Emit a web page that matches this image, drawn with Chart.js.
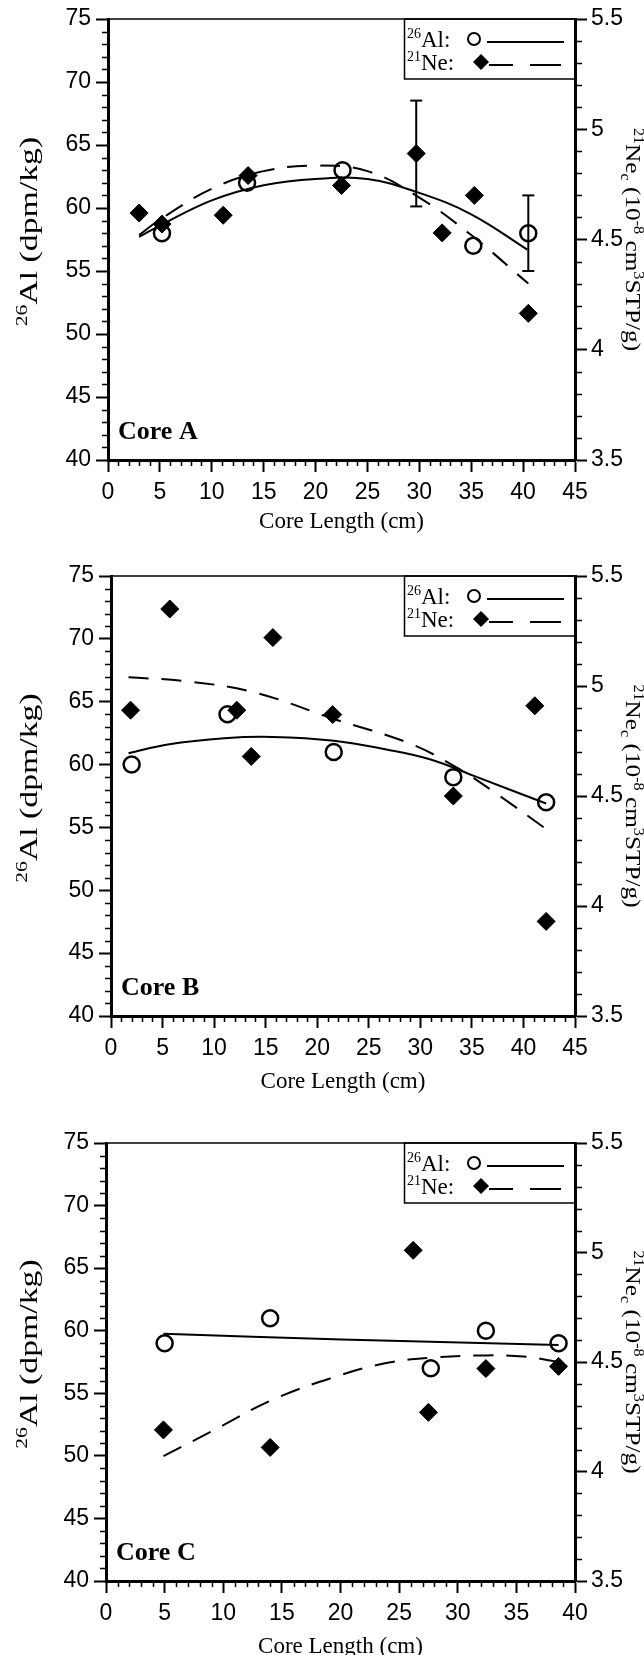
<!DOCTYPE html>
<html>
<head>
<meta charset="utf-8">
<script src="https://cdn.jsdelivr.net/npm/chart.js@4.4.1/dist/chart.umd.min.js"></script>
<style>
  body { margin: 0; background: #fff; width: 644px; height: 1655px; position: relative; overflow: hidden; }
  canvas { position: absolute; left: 0; }
</style>
</head>
<body>
<canvas id="chartA" width="644" height="552" style="top:0px"></canvas>
<canvas id="chartB" width="644" height="558" style="top:552px"></canvas>
<canvas id="chartC" width="644" height="545" style="top:1110px"></canvas>
<script>
// ---------------- data ----------------
const depthTicksAB = [0, 5, 10, 15, 20, 25, 30, 35, 40, 45];
const depthTicksC = [0, 5, 10, 15, 20, 25, 30, 35, 40];
const alTicks = [40, 45, 50, 55, 60, 65, 70, 75];
const neTicks = [3.5, 4, 4.5, 5, 5.5];

// Core A
const coreA_alDepth = [5.2, 13.4, 22.6, 35.2, 40.5];
const coreA_al = [58, 62, 63, 57, 58];
const coreA_neDepth = [3.0, 5.2, 11.1, 13.5, 22.5, 29.7, 32.2, 35.3, 40.5];
const coreA_ne = [4.62, 4.57, 4.61, 4.79, 4.745, 4.89, 4.53, 4.70, 4.165];
const coreA_alFitDepth = [3.0, 5, 10, 15, 20, 25, 30, 35, 40.4];
const coreA_alFit = [57.7, 58.6, 60.6, 61.8, 62.3, 62.3, 61.2, 59.5, 56.7];
const coreA_neFitDepth = [3.0, 5, 10, 15, 20, 25, 30, 35, 40.5];
const coreA_neFit = [4.52, 4.59, 4.73, 4.81, 4.835, 4.81, 4.69, 4.52, 4.30];
const coreA_alErr = [40.5, 55, 61];   // depth, low, high
const coreA_neErr = [29.7, 4.65, 5.13];

// Core B
const coreB_alDepth = [2.0, 11.3, 21.6, 33.2, 42.2];
const coreB_al = [60, 64, 61, 59, 57];
const coreB_neDepth = [1.9, 5.7, 12.2, 13.6, 15.7, 21.5, 33.2, 41.1, 42.2];
const coreB_ne = [4.89, 5.35, 4.89, 4.68, 5.22, 4.87, 4.50, 4.91, 3.93];
const coreB_alFitDepth = [1.7, 5.5, 11.0, 15.7, 21.6, 26.7, 31.0, 35.2, 42.2];
const coreB_alFit = [60.9, 61.6, 62.1, 62.2, 61.9, 61.2, 60.4, 59.1, 56.9];
const coreB_neFitDepth = [1.7, 7.6, 14.0, 21.6, 28.9, 33.5, 37.4, 42.2];
const coreB_neFit = [5.04, 5.02, 4.97, 4.85, 4.74, 4.63, 4.51, 4.35];

// Core C
const coreC_alDepth = [5.0, 14.0, 27.7, 32.4, 38.6];
const coreC_al = [59, 61, 57, 60, 59];
const coreC_neDepth = [4.9, 14.0, 26.2, 27.5, 32.4, 38.6];
const coreC_ne = [4.19, 4.11, 5.01, 4.27, 4.47, 4.48];
const coreC_alFitDepth = [4.9, 20.1, 38.6];
const coreC_alFit = [59.75, 59.3, 58.85];
const coreC_neFitDepth = [4.9, 9.6, 14.1, 19.4, 23.9, 27.7, 32.4, 35.6, 38.6];
const coreC_neFit = [4.07, 4.20, 4.325, 4.43, 4.495, 4.52, 4.53, 4.525, 4.50];

// ---------------- helpers ----------------
const SERIF = '"Liberation Serif", "Times New Roman", serif';
const SANS = '"Liberation Sans", Arial, sans-serif';

function zip(xs, ys) {
    return xs.map((x, i) => ({ x: x, y: ys[i] }));
}

// text runs with superscripts / subscripts; stretch widens along the text direction
function richText(ctx, parts, x, y, rot, size, align, stretch) {
    ctx.save();
    ctx.translate(x, y);
    ctx.rotate(rot);
    ctx.scale(stretch || 1, 1);
    ctx.textBaseline = 'alphabetic';
    ctx.textAlign = 'left';
    const fontOf = pt => ((pt.sup || pt.sub) ? Math.round(size * 0.62) : size) + 'px ' + SERIF;
    let w = 0;
    parts.forEach(pt => { ctx.font = fontOf(pt); w += ctx.measureText(pt.t).width; });
    let cx = align === 'left' ? 0 : -w / 2;
    parts.forEach(pt => {
        ctx.font = fontOf(pt);
        let dy = 0;
        if (pt.sup) dy = -size * 0.38;
        if (pt.sub) dy = size * 0.2;
        ctx.fillText(pt.t, cx, size * 0.34 + dy);
        cx += ctx.measureText(pt.t).width;
    });
    ctx.restore();
}

const leftTitle = [{ t: '26', sup: 1 }, { t: 'Al (dpm/kg)' }];
const rightTitle = [{ t: '21', sup: 1 }, { t: 'Ne' }, { t: 'c', sub: 1 }, { t: ' (10' }, { t: '-8', sup: 1 },
    { t: ' cm' }, { t: '3', sup: 1 }, { t: 'STP/g)' }];
const bottomTitle = [{ t: 'Core Length (cm)' }];

// frame, minor ticks, titles, legend, core label
const decor = {
    id: 'decor',
    afterDraw(chart) {
        const p = chart.options.plugins.decor;
        const ctx = chart.ctx;
        const a = chart.chartArea;
        const sx = chart.scales.x, sy = chart.scales.y, sy2 = chart.scales.y2;
        ctx.save();
        ctx.strokeStyle = '#000';
        ctx.fillStyle = '#000';

        // top frame line
        ctx.lineWidth = 1.6;
        ctx.beginPath();
        ctx.moveTo(a.left, a.top);
        ctx.lineTo(a.right, a.top);
        ctx.stroke();

        // minor ticks
        ctx.lineWidth = 1.5;
        ctx.beginPath();
        for (let v = sx.min; v <= sx.max; v++) {
            if (v % 5 === 0) continue;
            const px = Math.round(sx.getPixelForValue(v)) + 0.5;
            ctx.moveTo(px, a.bottom);
            ctx.lineTo(px, a.bottom + 6);
        }
        for (let v = sy.min; v <= sy.max; v++) {
            if (v % 5 === 0) continue;
            const py = Math.round(sy.getPixelForValue(v)) + 0.5;
            ctx.moveTo(a.left - 6, py);
            ctx.lineTo(a.left, py);
        }
        for (let i = 35; i <= 55; i++) {
            if (i % 5 === 0) continue;
            const py = Math.round(sy2.getPixelForValue(i / 10)) + 0.5;
            ctx.moveTo(a.right, py);
            ctx.lineTo(a.right + 7, py);
        }
        ctx.stroke();

        // axis titles
        const midY = (a.top + a.bottom) / 2;
        richText(ctx, leftTitle, 28, midY - 8, -Math.PI / 2, 25, 'center', 1.35);
        richText(ctx, rightTitle, 633, midY, Math.PI / 2, 22, 'center', 1.15);
        richText(ctx, bottomTitle, (a.left + a.right) / 2, a.bottom + p.titleDy, 0, 23, 'center', 1);

        // core label
        ctx.font = 'bold 26px ' + SERIF;
        ctx.textAlign = 'left';
        ctx.textBaseline = 'alphabetic';
        ctx.fillText(p.label, a.left + 10, a.bottom - 21);

        // legend box
        const bw = 171, bh = 60;
        const bx = a.right - bw, by = a.top;
        ctx.lineWidth = 1.5;
        ctx.strokeRect(bx + 0.5, by, bw, bh);
        richText(ctx, [{ t: '26', sup: 1 }, { t: 'Al:' }], bx + 3, by + 20, 0, 23, 'left', 1);
        richText(ctx, [{ t: '21', sup: 1 }, { t: 'Ne:' }], bx + 3, by + 43, 0, 23, 'left', 1);
        ctx.lineWidth = 2;
        ctx.beginPath();
        ctx.arc(bx + 70, by + 20, 6, 0, Math.PI * 2);
        ctx.stroke();
        ctx.beginPath();
        ctx.moveTo(bx + 83, by + 23);
        ctx.lineTo(bx + 160, by + 23);
        ctx.stroke();
        const dx = bx + 77, dy = by + 43;
        ctx.beginPath();
        ctx.moveTo(dx - 8, dy);
        ctx.lineTo(dx, dy - 8);
        ctx.lineTo(dx + 8, dy);
        ctx.lineTo(dx, dy + 8);
        ctx.closePath();
        ctx.fill();
        ctx.beginPath();
        ctx.moveTo(bx + 85, by + 46);
        ctx.lineTo(bx + 109, by + 46);
        ctx.moveTo(bx + 126, by + 46);
        ctx.lineTo(bx + 157, by + 46);
        ctx.stroke();
        ctx.restore();
    }
};

function renderCore(canvasId, cfg) {
    const datasets = [
        {
            label: '21Ne', data: zip(cfg.neDepth, cfg.ne), yAxisID: 'y2', order: 0,
            pointStyle: 'rectRot', pointRadius: 9, pointBorderWidth: 1,
            backgroundColor: '#000', borderColor: '#000', showLine: false
        },
        {
            label: '26Al', data: zip(cfg.alDepth, cfg.al), yAxisID: 'y', order: 1,
            pointStyle: 'circle', pointRadius: 8, pointBorderWidth: 2.5,
            backgroundColor: 'rgba(0,0,0,0)', borderColor: '#000', showLine: false
        },
        {
            label: '26Al fit', data: zip(cfg.alFitDepth, cfg.alFit), yAxisID: 'y', order: 3,
            showLine: true, pointRadius: 0, borderColor: '#000', borderWidth: 2, tension: 0.4
        },
        {
            label: '21Ne fit', data: zip(cfg.neFitDepth, cfg.neFit), yAxisID: 'y2', order: 3,
            showLine: true, pointRadius: 0, borderColor: '#000', borderWidth: 2, borderDash: [20, 13], tension: 0.4
        }
    ];
    if (cfg.alErr) {
        datasets.push({
            label: '26Al err', yAxisID: 'y', order: 2, showLine: true,
            data: [{ x: cfg.alErr[0], y: cfg.alErr[1] }, { x: cfg.alErr[0], y: cfg.alErr[2] }],
            borderColor: '#000', borderWidth: 2, pointStyle: 'line', pointRadius: 6, pointBorderWidth: 2
        });
    }
    if (cfg.neErr) {
        datasets.push({
            label: '21Ne err', yAxisID: 'y2', order: 2, showLine: true,
            data: [{ x: cfg.neErr[0], y: cfg.neErr[1] }, { x: cfg.neErr[0], y: cfg.neErr[2] }],
            borderColor: '#000', borderWidth: 2, pointStyle: 'line', pointRadius: 6, pointBorderWidth: 2
        });
    }

    const tickFont = { family: SANS, size: 23 };
    const tickGrid = { drawOnChartArea: false, drawTicks: true, tickLength: 12, tickWidth: 2, tickColor: '#000' };
    const axisBorder = { display: true, color: '#000', width: 3 };

    return new Chart(document.getElementById(canvasId), {
        type: 'scatter',
        data: { datasets: datasets },
        options: {
            responsive: false,
            animation: false,
            events: [],
            layout: { padding: { top: cfg.padTop, left: 0, right: 0, bottom: 0 } },
            plugins: {
                legend: { display: false },
                tooltip: { enabled: false },
                decor: { label: cfg.label, titleDy: cfg.titleDy }
            },
            scales: {
                x: {
                    type: 'linear', position: 'bottom', min: 0, max: cfg.xTicks[cfg.xTicks.length - 1],
                    afterBuildTicks: s => { s.ticks = cfg.xTicks.map(v => ({ value: v })); },
                    afterFit: s => { s.height = cfg.xHeight; },
                    ticks: { color: '#000', font: tickFont, padding: 7, maxRotation: 0, autoSkip: false, callback: v => String(v) },
                    grid: tickGrid, border: axisBorder
                },
                y: {
                    type: 'linear', position: 'left', min: 40, max: 75,
                    afterBuildTicks: s => { s.ticks = alTicks.map(v => ({ value: v })); },
                    afterFit: s => { s.width = cfg.left; },
                    ticks: { color: '#000', font: tickFont, padding: 5, autoSkip: false, callback: v => String(v) },
                    grid: tickGrid, border: axisBorder
                },
                y2: {
                    type: 'linear', position: 'right', min: 3.5, max: 5.5,
                    afterBuildTicks: s => { s.ticks = neTicks.map(v => ({ value: v })); },
                    afterFit: s => { s.width = 644 - cfg.right; },
                    ticks: { color: '#000', font: tickFont, padding: 4, autoSkip: false, callback: v => String(v) },
                    grid: tickGrid, border: axisBorder
                }
            }
        },
        plugins: [decor]
    });
}

renderCore('chartA', {
    label: 'Core A', xTicks: depthTicksAB, padTop: 19, xHeight: 92, left: 108, right: 575, titleDy: 60,
    alDepth: coreA_alDepth, al: coreA_al, neDepth: coreA_neDepth, ne: coreA_ne,
    alFitDepth: coreA_alFitDepth, alFit: coreA_alFit, neFitDepth: coreA_neFitDepth, neFit: coreA_neFit,
    alErr: coreA_alErr, neErr: coreA_neErr
});
renderCore('chartB', {
    label: 'Core B', xTicks: depthTicksAB, padTop: 24, xHeight: 94, left: 111, right: 575, titleDy: 64,
    alDepth: coreB_alDepth, al: coreB_al, neDepth: coreB_neDepth, ne: coreB_ne,
    alFitDepth: coreB_alFitDepth, alFit: coreB_alFit, neFitDepth: coreB_neFitDepth, neFit: coreB_neFit
});
renderCore('chartC', {
    label: 'Core C', xTicks: depthTicksC, padTop: 33, xHeight: 74, left: 106, right: 575, titleDy: 64,
    alDepth: coreC_alDepth, al: coreC_al, neDepth: coreC_neDepth, ne: coreC_ne,
    alFitDepth: coreC_alFitDepth, alFit: coreC_alFit, neFitDepth: coreC_neFitDepth, neFit: coreC_neFit
});
</script>
</body>
</html>
